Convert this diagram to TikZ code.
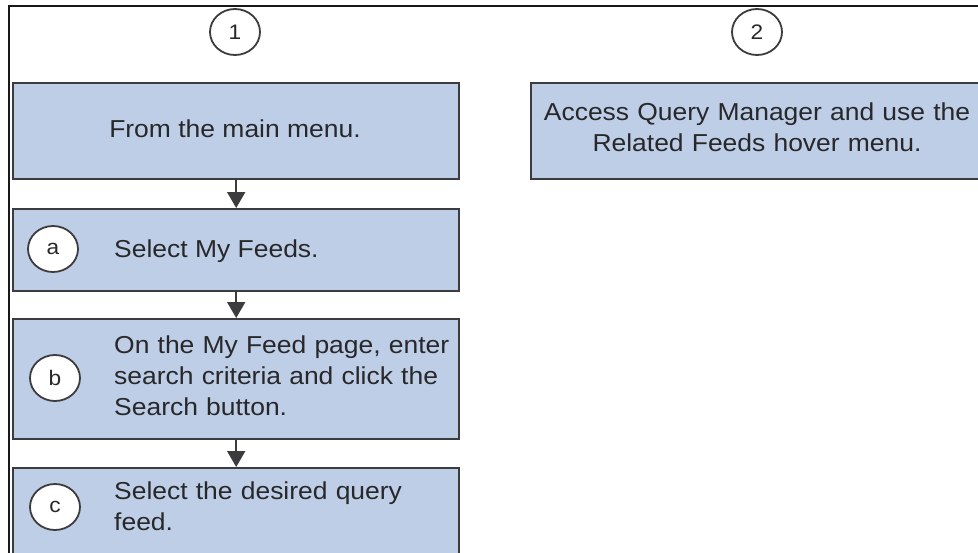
\documentclass[tikz,border=0pt]{standalone}
\usepackage{fontspec}
\setmainfont{Liberation Sans}[FakeStretch=1.08]
\usetikzlibrary{arrows.meta,shapes.geometric}
\definecolor{boxfill}{RGB}{190,206,231}
\definecolor{boxedge}{RGB}{60,60,62}
\definecolor{ink}{RGB}{40,40,42}
\begin{document}
\begin{tikzpicture}[x=1pt,y=-1pt,
  stepbox/.style={draw=boxedge,line width=2.4pt,fill=boxfill,rectangle,
    anchor=north west,inner sep=0pt},
  badge/.style={draw=boxedge,line width=1.8pt,fill=white,ellipse,
    minimum width=50pt,minimum height=46pt,inner sep=0pt,
    font=\fontsize{21}{25}\selectfont,text=ink},
  label/.style={inner sep=0pt,text=ink,font=\fontsize{24.5}{31}\selectfont},
  flow/.style={draw=boxedge,line width=2pt,
    -{Triangle[width=18pt,length=16pt]}}]
\useasboundingbox (0,0) rectangle (978,552);
\clip (0,0) rectangle (978,552);
\fill[white] (0,0) rectangle (978,552);
% outer frame (top and left edges)
\draw[line width=2pt,color=black!90] (990,6) -- (9,6) -- (9,570);

% column 1
\node[badge] (n1) at (235,32) {1};
\node[stepbox,minimum width=446pt,minimum height=96pt] (menu) at (12,82) {};
\node[label,anchor=base] (menutxt) at (235,137) {From the main menu.};

\node[stepbox,minimum width=446pt,minimum height=82pt] (feeds) at (12,208) {};
\node[badge] (na) at (53,249) {a};
\node[label,anchor=base west] (feedstxt) at (114,257) {Select My Feeds.};

\node[stepbox,minimum width=446pt,minimum height=120pt] (search) at (12,318) {};
\node[badge] (nb) at (55,378) {b};
\node[label,anchor=base west,text width=340pt,align=left] (searchtxt) at (114,353)
  {On the My Feed page, enter\\search criteria and click the\\Search button.};

\node[stepbox,minimum width=446pt,minimum height=95pt] (query) at (12,467) {};
\node[badge] (nc) at (55,507) {c};
\node[label,anchor=base west,text width=340pt,align=left] (querytxt) at (114,499)
  {Select the desired query\\feed.};

\draw[flow] (menu.south) -- (feeds.north);
\draw[flow] (feeds.south) -- (search.north);
\draw[flow] (search.south) -- (query.north);

% column 2
\node[badge] (n2) at (757,32) {2};
\node[stepbox,minimum width=470pt,minimum height=96pt] (qm) at (530,82) {};
\node[label,anchor=base,text width=440pt,align=center] (qmtxt) at (757,120)
  {Access Query Manager and use the\\Related Feeds hover menu.};
\end{tikzpicture}
\end{document}
